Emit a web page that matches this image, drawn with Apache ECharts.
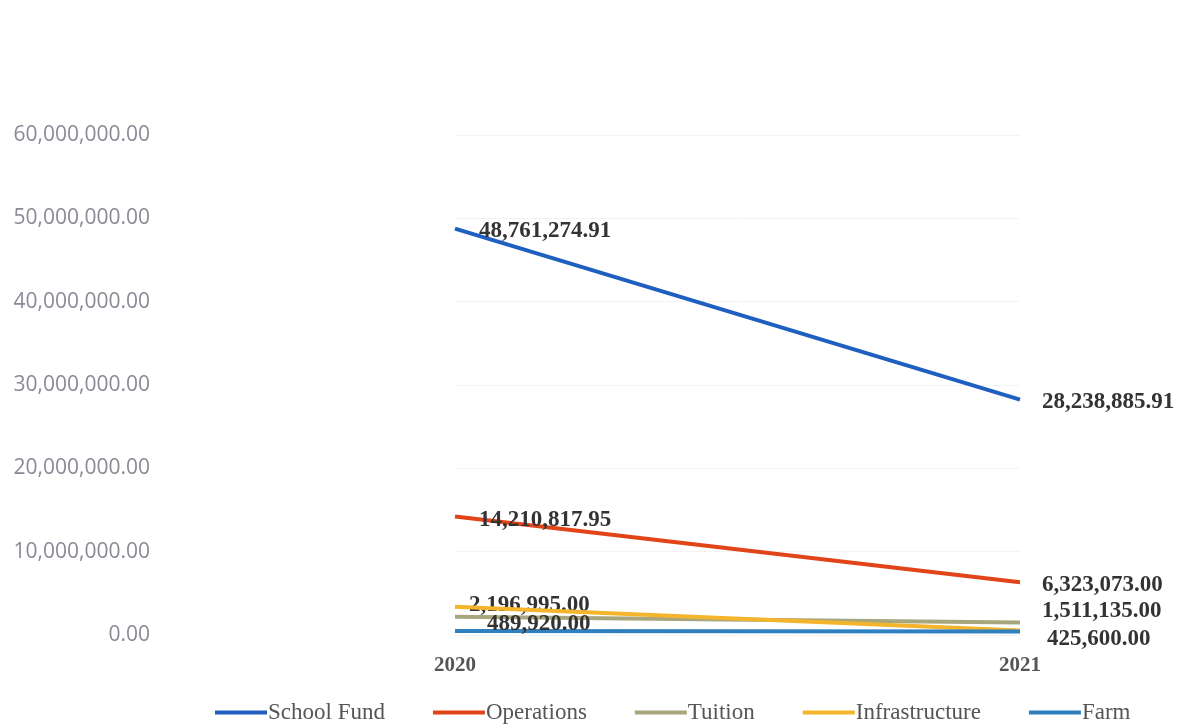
<!DOCTYPE html>
<html>
<head>
<meta charset="utf-8">
<script src="https://cdn.jsdelivr.net/npm/echarts@6/dist/echarts.min.js"></script>
<style>html,body{margin:0;padding:0;background:#fff}#c{width:1180px;height:728px}</style>
</head>
<body>
<div id="c"></div>
<script>
var years = ['2020', '2021'];
var seriesNames = ['School Fund', 'Operations', 'Tuition', 'Infrastructure', 'Farm'];
var schoolFund = [48761274.91, 28238885.91];
var operations = [14210817.95, 6323073.00];
var tuition = [2196995.00, 1511135.00];
var infrastructure = [3400000, 550000];
var farm = [489920.00, 425600.00];
var yTicks = [0, 10000000, 20000000, 30000000, 40000000, 50000000, 60000000];

var colors = ['#1f5fbf', '#e04418', '#a8a67c', '#f4b52c', '#2f80c0'];
function fmt(v){
  return v.toLocaleString('en-US', {minimumFractionDigits: 2, maximumFractionDigits: 2});
}
var labelStyle = {fontFamily: 'Liberation Serif', fontWeight: 'bold', fontSize: 23, color: '#333'};
function withLabels(values, offsets, show){
  return values.map(function(v, i){
    var d = {value: v};
    d.label = show ? Object.assign({show: true, position: 'right', distance: 22, offset: offsets[i],
        formatter: function(p){ return fmt(p.value); }}, labelStyle) : {show: false};
    return d;
  });
}
var dataSets = [
  withLabels(schoolFund, [[2, 2], [0, 2]], true),
  withLabels(operations, [[2, 3], [0, 3]], true),
  withLabels(tuition, [[-8, -12], [0, -11]], true),
  withLabels(infrastructure, [[0, 0], [0, 0]], false),
  withLabels(farm, [[10, -7], [5, 8]], true)
];
var series = seriesNames.map(function(n, i){
  return {
    name: n, type: 'line', data: dataSets[i], symbol: 'circle', symbolSize: 0.1, showSymbol: true,
    lineStyle: {width: 4, color: colors[i]}, itemStyle: {color: colors[i]},
    z: 2 + i
  };
});
var chart = echarts.init(document.getElementById('c'));
chart.setOption({
  animation: false,
  backgroundColor: '#fff',
  grid: {left: 455, right: 160, top: 135, bottom: 93},
  xAxis: {
    type: 'category', data: years, boundaryGap: false,
    axisLine: {show: false}, axisTick: {show: false},
    axisLabel: {margin: 20, fontFamily: 'Liberation Serif', fontWeight: 'bold', fontSize: 21, color: '#555'}
  },
  yAxis: {
    type: 'value', min: 0, max: 60000000, interval: 10000000,
    axisLine: {show: false}, axisTick: {show: false},
    splitLine: {show: true, lineStyle: {color: '#f3f3f3', width: 1}},
    axisLabel: {margin: 305, fontFamily: 'Open Sans', fontSize: 21, color: '#8a8a96',
      formatter: function(v){ return fmt(v); }}
  },
  legend: {
    top: 696, left: 210, itemWidth: 52, itemHeight: 14, itemGap: 48,
    icon: 'path://M0,0L52,0L52,4L0,4Z',
    textStyle: {fontFamily: 'Liberation Serif', fontSize: 23, color: '#555', padding: [0,0,0,-4]},
    data: seriesNames
  },
  series: series
});
</script>
</body>
</html>
